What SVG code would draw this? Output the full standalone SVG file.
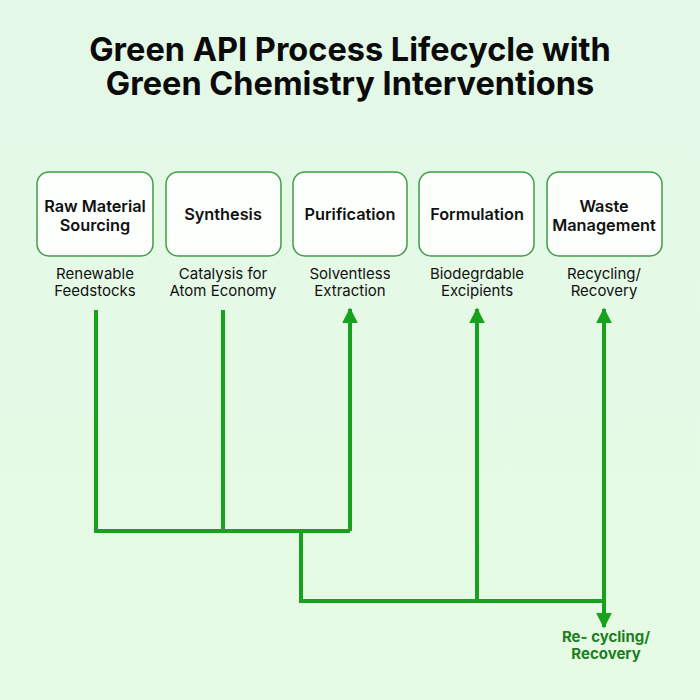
<svg xmlns="http://www.w3.org/2000/svg" width="700" height="700" viewBox="0 0 700 700">
<defs>
<linearGradient id="bg" x1="0" y1="0" x2="0" y2="1">
<stop offset="0" stop-color="#e4f8e8"/>
<stop offset="1" stop-color="#e6fbe4"/>
</linearGradient>
<marker id="ah" viewBox="0 0 10 10" refX="9" refY="5" markerWidth="4" markerHeight="4" markerUnits="strokeWidth" orient="auto">
<path d="M0,0 L10,5 L0,10 z" fill="#17a11d"/>
</marker>
<style>
.title{font-family:Inter,"Liberation Sans",sans-serif;font-weight:700;font-size:32.5px;fill:#0b0b0b;text-anchor:middle}
.box{fill:#fdfffd;stroke:#3f9d45;stroke-width:1.5}
.bt{font-family:Inter,"Liberation Sans",sans-serif;font-weight:600;font-size:16.3px;fill:#111;text-anchor:middle}
.st{font-family:Inter,"Liberation Sans",sans-serif;font-size:15px;fill:#111;text-anchor:middle}
.ln{fill:none;stroke:#17a11d;stroke-width:4}
.lbl{font-family:Inter,"Liberation Sans",sans-serif;font-weight:700;font-size:15px;fill:#1b7f22;text-anchor:middle}
</style>
</defs>
<rect width="700" height="700" fill="url(#bg)"/>
<text class="title" x="350" y="61">Green API Process Lifecycle with</text>
<text class="title" x="350" y="95">Green Chemistry Interventions</text>

<g id="raw">
<rect class="box" x="37" y="172" width="116" height="84" rx="12"/>
<text class="bt" x="95" y="212">Raw Material</text>
<text class="bt" x="95" y="231">Sourcing</text>
<text class="st" x="95" y="279">Renewable</text>
<text class="st" x="95" y="296">Feedstocks</text>
</g>
<g id="synthesis">
<rect class="box" x="166" y="172" width="115" height="84" rx="12"/>
<text class="bt" x="223" y="220">Synthesis</text>
<text class="st" x="223" y="279">Catalysis for</text>
<text class="st" x="223" y="296">Atom Economy</text>
</g>
<g id="purification">
<rect class="box" x="293" y="172" width="114" height="84" rx="12"/>
<text class="bt" x="350" y="220">Purification</text>
<text class="st" x="350" y="279">Solventless</text>
<text class="st" x="350" y="296">Extraction</text>
</g>
<g id="formulation">
<rect class="box" x="419" y="172" width="115" height="84" rx="12"/>
<text class="bt" x="477" y="220">Formulation</text>
<text class="st" x="477" y="279">Biodegrdable</text>
<text class="st" x="477" y="296">Excipients</text>
</g>
<g id="waste">
<rect class="box" x="547" y="172" width="115" height="84" rx="12"/>
<text class="bt" x="604" y="212">Waste</text>
<text class="bt" x="604" y="231">Management</text>
<text class="st" x="604" y="279">Recycling/</text>
<text class="st" x="604" y="296">Recovery</text>
</g>

<g id="connectors">
<polyline class="ln" points="96,310 96,531 350,531"/>
<line class="ln" x1="223" y1="310" x2="223" y2="531"/>
<line class="ln" x1="350" y1="531" x2="350" y2="309" marker-end="url(#ah)"/>
<polyline class="ln" points="301,531 301,601 604,601"/>
<line class="ln" x1="477" y1="601" x2="477" y2="309" marker-end="url(#ah)"/>
<line class="ln" x1="604" y1="601" x2="604" y2="309" marker-end="url(#ah)"/>
<line class="ln" x1="604" y1="601" x2="604" y2="627" marker-end="url(#ah)"/>
</g>
<g id="recycle-label">
<text class="lbl" x="606" y="642">Re- cycling/</text>
<text class="lbl" x="606" y="659">Recovery</text>
</g>
</svg>
